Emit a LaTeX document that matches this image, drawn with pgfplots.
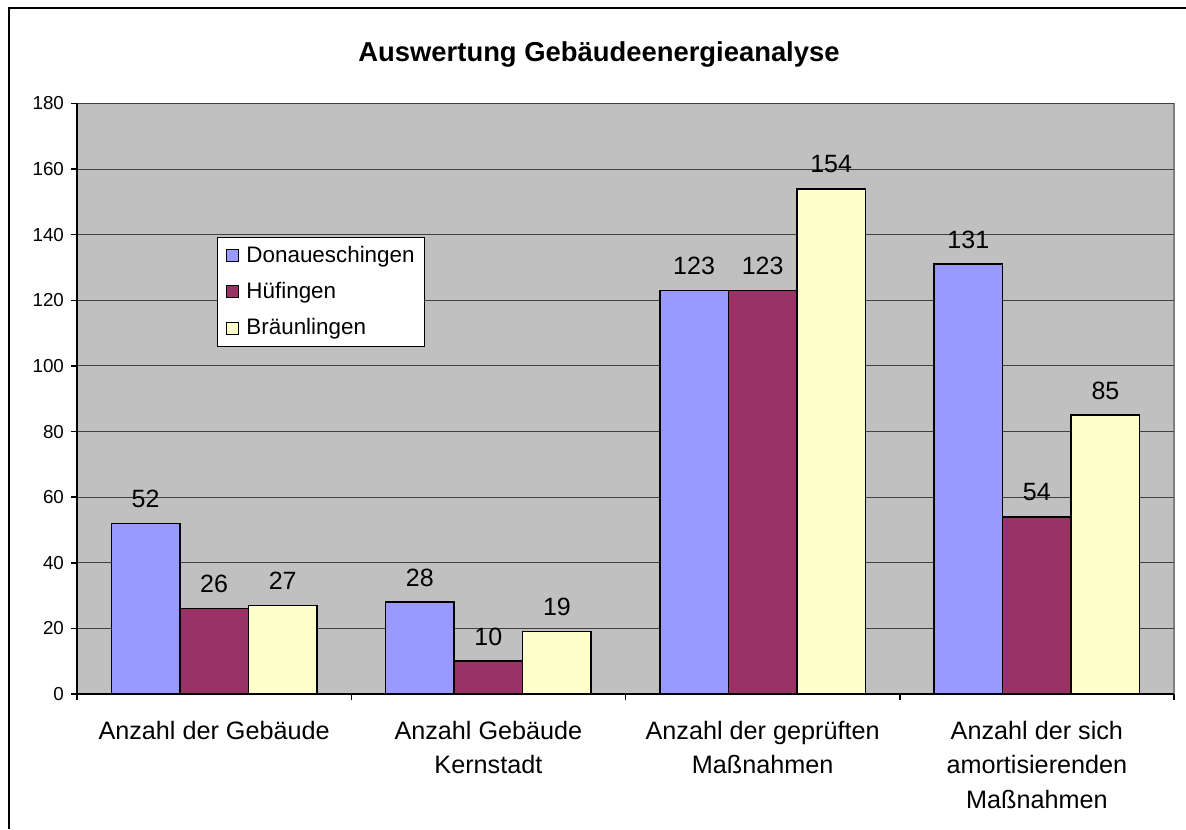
\documentclass[border=0pt]{standalone}
\usepackage{fontspec}
\setmainfont{Liberation Sans}
\usepackage{pgfplots}
\pgfplotsset{compat=1.18}
\definecolor{cA}{HTML}{9999FF}
\definecolor{cB}{HTML}{993366}
\definecolor{cC}{HTML}{FFFFCC}
\definecolor{bg}{HTML}{C0C0C0}
\begin{document}
\begin{tikzpicture}
\useasboundingbox (0,0) rectangle (593pt,414.5pt);
\draw[line width=1pt] (4.5pt,0) -- (4.5pt,410.5pt) -- (593pt,410.5pt);
\node[font=\fontsize{13.7}{16}\selectfont\bfseries] at (299.5pt,387.5pt) {Auswertung Gebäudeenergieanalyse};
\begin{axis}[
  at={(38.5pt,67.5pt)}, anchor=south west,
  scale only axis, width=548.5pt, height=295.25pt,
  xmin=-0.5, xmax=3.5, ymin=0, ymax=180,
  ybar=0pt, bar width=0.25,
  axis lines*=left, axis line style={-, line width=0.75pt},
  axis background/.style={fill=bg, draw=black!50, line width=0.75pt},
  ymajorgrids, grid style={black!75, line width=0.5pt},
  ytick={0,20,...,180},
  tick align=outside, major tick length=3pt,
  tick style={black, line width=0.75pt},
  /pgf/number format/assume math mode=true,
  yticklabel style={font=\fontsize{9.4}{11}\selectfont},
  xtick={-0.5,0.5,1.5,2.5,3.5},
  x tick label as interval,
  xticklabels={Anzahl der Gebäude, {Anzahl Gebäude\\Kernstadt}, {Anzahl der geprüften\\Maßnahmen}, {Anzahl der sich\\amortisierenden\\Maßnahmen}},
  xticklabel style={align=center, font=\fontsize{12.6}{17.25}\selectfont, anchor=north, yshift=-7pt},
  nodes near coords,
  nodes near coords style={font=\fontsize{12.5}{15}\selectfont, anchor=south, inner sep=0pt, yshift=7.5pt, text=black},
  legend style={at={(0.1276,0.7739)}, anchor=north west, draw=black, fill=white, line width=0.5pt,
     font=\fontsize{11.2}{13}\selectfont, row sep=4.5pt, inner xsep=3pt, inner ysep=2.3pt},
  legend cell align=left,
  legend image code/.code={\path[draw=none, fill=none] (0pt,-3pt) rectangle (9.5pt,3pt);
     \draw[#1, draw=black, line width=0.5pt] (1.5pt,-3pt) rectangle (7.5pt,3pt);},
]
\addplot[fill=cA, draw=black, line width=0.75pt, bar shift=-0.25] coordinates {(0,52) (1,28) (2,123) (3,131)};
\addplot[fill=cB, draw=black, line width=0.75pt, bar shift=0] coordinates {(0,26) (1,10) (2,123) (3,54)};
\addplot[fill=cC, draw=black, line width=0.75pt, bar shift=0.25] coordinates {(0,27) (1,19) (2,154) (3,85)};
\legend{Donaueschingen, Hüfingen, Bräunlingen}
\end{axis}
\end{tikzpicture}
\end{document}
